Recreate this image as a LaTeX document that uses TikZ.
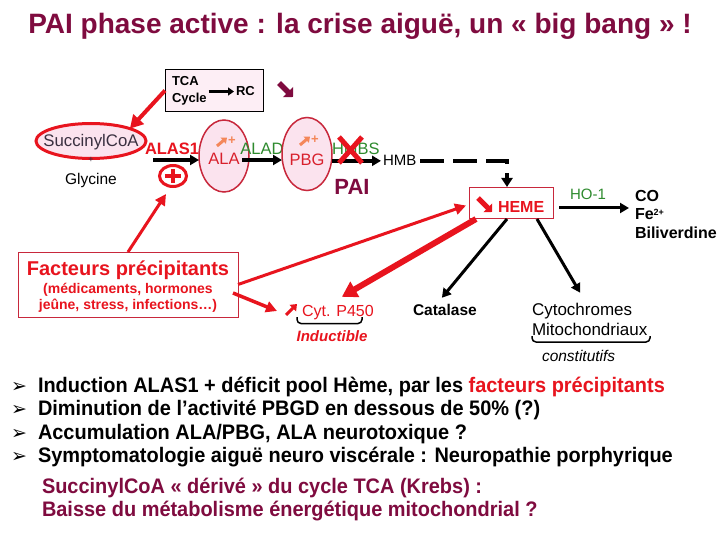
\documentclass[tikz,border=0pt]{standalone}
\usepackage{fontspec}
\setmainfont{Liberation Sans}
\newfontfamily\narrowb[FakeStretch=0.95]{Liberation Sans}
\newfontfamily\dejavu{DejaVu Sans}
\usetikzlibrary{arrows.meta,shapes.geometric}
\definecolor{maroon}{HTML}{7F0B3F}
\definecolor{pred}{HTML}{E8141E}
\definecolor{dred}{HTML}{C8283C}
\definecolor{tred}{HTML}{D8202C}
\definecolor{grn}{HTML}{2E8B2E}
\definecolor{pinkfill}{HTML}{FBE3EE}
\definecolor{tcafill}{HTML}{FDEEF5}
\definecolor{orng}{HTML}{F4875A}
\definecolor{dgray}{HTML}{3A3040}
\newcommand{\fs}[1]{\fontsize{#1}{#1}\selectfont}
\begin{document}
\begin{tikzpicture}[x=1pt,y=-1pt,
  every node/.style={inner sep=0pt, outer sep=0pt},
  ell/.style={ellipse, fill=pinkfill, draw=dred, line width=1.5pt},
  blk/.style={draw=black, line width=3.5pt, -{Triangle[length=9pt,width=10pt]}},
  redarr/.style={draw=pred, line width=3pt, -{Triangle[length=11pt,width=11pt]}},
  bul/.style={anchor=base west, font=\narrowb\bfseries\fs{21}},
  bmark/.style={anchor=base, font=\dejavu\fs{19}}]
\useasboundingbox (0,0) rectangle (720,540);
\fill[white] (0,0) rectangle (720,540);

% title
\node[anchor=base, font=\bfseries\fs{28}, text=maroon] (title) at (360,34) {PAI phase active : la crise aiguë, un « big bang » !};

% TCA box
\node[draw=black, line width=0.8pt, fill=tcafill, minimum width=98pt, minimum height=42pt] (tca) at (214,90.5) {};
\node[anchor=base west, font=\bfseries\fs{13}] (tcat) at (172,86) {TCA};
\node[anchor=base west, font=\bfseries\fs{13}] (cyc) at (172,103) {Cycle};
\node[anchor=base west, font=\bfseries\fs{13}] (rc) at (236,96) {RC};
\draw[line width=2.5pt, -{Triangle[length=6pt,width=8pt]}] ([xshift=2pt]cyc.east |- rc.west) -- ([xshift=-2pt]rc.west);
\coordinate (mdA) at (279,83);
\coordinate (mdB) at (293,97);
\draw[maroon, line width=5.5pt, -{Triangle[length=7pt,width=14pt]}] (mdA) -- (mdB);

% SuccinylCoA
\node[ell, draw=pred, line width=3pt, minimum width=110pt, minimum height=35pt] (succ) at (91,141) {};
\node[anchor=base, font=\fs{16.8}, text=dgray] (succt) at (91,147) {SuccinylCoA};
\draw[redarr, line width=4pt, -{Triangle[length=13pt,width=14pt]}] (tca.west) -- (succ.north east);
\node[anchor=base, font=\fs{9}, text=dgray] (plusg) at (91,163) {+};
\node[anchor=base, font=\fs{15.5}] (gly) at (91,185) {Glycine};

% ALAS1
\node[anchor=base west, font=\bfseries\fs{16.5}, text=pred] (alas) at (145,155) {ALAS1};
\coordinate (s1) at (153,160);
\node[ell, minimum width=50pt, minimum height=72pt] (ala) at (224,156) {};
\draw[blk] (s1) -- (s1 -| ala.west);
% circled plus
\node[ellipse, draw=pred, line width=3pt, minimum width=27pt, minimum height=21pt] (cplus) at (173,176) {};
\draw[pred, line width=3.5pt] ([xshift=-8pt]cplus.center) -- ([xshift=8pt]cplus.center);
\draw[pred, line width=3.5pt] ([yshift=-7pt]cplus.center) -- ([yshift=7pt]cplus.center);

% ALA content
\draw[orng, line width=3pt, -{Triangle[length=5pt,width=8pt]}] (217,146) -- (227,137.5);
\node[anchor=base, font=\bfseries\fs{13}, text=orng] (alap) at (232,145) {+};
\node[anchor=base, font=\fs{16.5}, text=tred] (alat) at (224,165) {ALA};

% ALAD
\node[anchor=base, font=\fs{16.5}, text=grn] (alad) at (262,155) {ALAD};
\node[ell, minimum width=50pt, minimum height=73pt] (pbg) at (307,154) {};
\coordinate (s2) at (242,160);
\draw[blk] (s2) -- (s2 -| pbg.west);
\draw[orng, line width=3pt, -{Triangle[length=5pt,width=8pt]}] (300,145) -- (310,136.5);
\node[anchor=base, font=\bfseries\fs{13}, text=orng] (pbgp) at (315,144) {+};
\node[anchor=base, font=\fs{16.5}, text=tred] (pbgt) at (307,166) {PBG};

% HMBS / HMB
\node[anchor=base west, font=\fs{16.5}, text=grn] (hmbs) at (332,155) {HMBS};
\node[anchor=base west, font=\fs{15}] (hmb) at (383,166) {HMB};
\draw[blk] (pbg.east |- hmb.west) -- ([xshift=-2pt]hmb.west);
\draw[pred, line width=5pt] (339,137) -- (362,163);
\draw[pred, line width=5pt] (362,137) -- (339,163);
\node[anchor=base, font=\bfseries\fs{22}, text=maroon] (pai) at (352,195) {PAI};

% HEME
\node[draw=dred, line width=1pt, fill=white, minimum width=84pt, minimum height=31pt] (heme) at (511,203.5) {};
\node[anchor=base west, font=\bfseries\fs{16}, text=pred] (hemet) at (498,212) {HEME};
\coordinate (hmA) at (478,198);
\coordinate (hmB) at (492,212);
\draw[pred, line width=5pt, -{Triangle[length=6pt,width=12pt]}] (hmA) -- (hmB);
\draw[line width=4pt, dash pattern=on 24pt off 9pt, -{Triangle[length=9pt,width=11pt]}] ([xshift=4pt]hmb.east) -| ([xshift=-4pt,yshift=1pt]heme.north);

% HO-1
\node[anchor=base, font=\fs{15}, text=grn] (ho) at (588,200) {HO-1};
\node[anchor=base west, font=\bfseries\fs{16}] (co) at (635,202) {CO};
\node[anchor=base west, font=\bfseries\fs{16}] (fe) at (635,219) {Fe\raisebox{4pt}{\fs{9}2+}};
\node[anchor=base west, font=\bfseries\fs{16}] (bili) at (635,239) {Biliverdine};
\coordinate (hoA) at (559,208);
\coordinate (hoB) at (629,208);
\draw[blk, line width=3pt] (hoA) -- (hoB);

% bottom products
\node[anchor=base west, font=\bfseries\fs{15.5}] (cat) at (413,315) {Catalase};
\node[anchor=base west, font=\fs{17}] (cyto) at (532,315) {Cytochromes};
\node[anchor=base west, font=\fs{17}] (mito) at (532,335) {Mitochondriaux};
\node[anchor=base west, font=\itshape\fs{15.5}] (const) at (542,361) {constitutifs};
\draw[line width=1.5pt, rounded corners=4pt] (532,336) -- (532,342) -- (650,342) -- (650,336);
\draw[blk, line width=3pt] ([xshift=-4pt]heme.south) -- ([xshift=-3pt,yshift=6pt]cat.north);
\draw[blk, line width=3pt] ([xshift=26pt]heme.south) -- ([xshift=-2pt,yshift=10pt]cyto.north);

% Cyt P450
\node[anchor=base west, font=\fs{16}, text=pred] (cyt) at (302,316) {Cyt. P450};
\coordinate (cuA) at (286,315);
\coordinate (cuB) at (297,304);
\draw[pred, line width=3pt, -{Triangle[length=6pt,width=9pt]}] (cuA) -- (cuB);
\draw[line width=1.5pt, rounded corners=4pt] (297,317) -- (297,323.5) -- (362,323.5) -- (362,317);
\node[anchor=base, font=\bfseries\itshape\fs{15}, text=pred] (induc) at (332,341) {Inductible};

% Facteurs
\node[draw=dred, line width=1pt, fill=white, minimum width=220pt, minimum height=65pt] (fact) at (128,284.5) {};
\node[anchor=base, font=\bfseries\fs{20}, text=pred] (factt) at (128,275) {Facteurs précipitants};
\node[anchor=base, font=\bfseries\fs{14}, text=pred] (fact2) at (128,293) {(médicaments, hormones};
\node[anchor=base, font=\bfseries\fs{14}, text=pred] (fact3) at (128,309) {jeûne, stress, infections…)};
\coordinate (ptip) at (166,194);
\draw[redarr] (fact.north) -- (ptip);
\draw[redarr] (fact.east) -- ([xshift=-3pt,yshift=-2pt]heme.west);
\draw[redarr, line width=6pt, -{Triangle[length=15pt,width=17pt]}] ([xshift=7pt]heme.south west) -- ([xshift=4pt,yshift=8pt]cyt.north);
\coordinate (fcA) at (233,293);
\coordinate (fcB) at (277,311);
\draw[redarr, line width=3.5pt] (fcA) -- (fcB);

% bullets
\node[bmark] (b1) at (19,392) {➢};
\node[bmark] (b2) at (19,415.5) {➢};
\node[bmark] (b3) at (19,439) {➢};
\node[bmark] (b4) at (19,462.5) {➢};
\node[bul] (l1) at (38,392) {Induction ALAS1 + déficit pool Hème, par les \textcolor{pred}{facteurs précipitants}};
\node[bul] (l2) at (38,415.5) {Diminution de l’activité PBGD en dessous de 50\% (?)};
\node[bul] (l3) at (38,439) {Accumulation ALA/PBG, ALA neurotoxique ?};
\node[bul] (l4) at (38,462.5) {Symptomatologie aiguë neuro viscérale : Neuropathie porphyrique};
\node[bul, text=maroon] (m1) at (42,493) {SuccinylCoA « dérivé » du cycle TCA (Krebs) :};
\node[bul, text=maroon] (m2) at (42,516) {Baisse du métabolisme énergétique mitochondrial ?};
\end{tikzpicture}
\end{document}
